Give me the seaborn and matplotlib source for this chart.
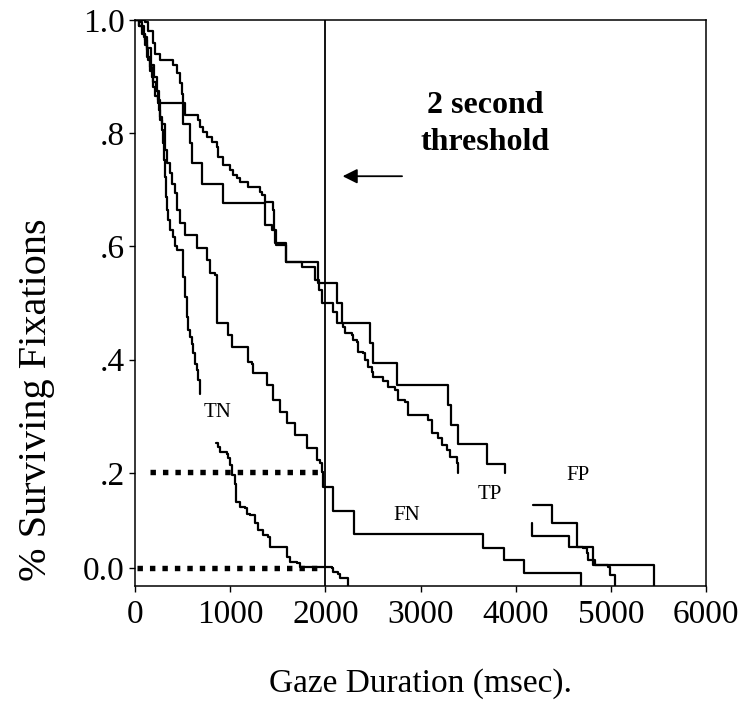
import seaborn as sns
import matplotlib.pyplot as plt

# survival curves: time of each drop (msec) and survival after it
# curves have gaps where the labels sit, so some come in two pieces
tn_t1 = [0, 52, 70, 87, 105, 122, 140, 157, 175, 192, 210, 245, 255, 262, 280, 297, 304, 315, 325, 333,
         350, 368, 402, 420, 437, 507, 525, 542, 560, 577, 595, 612, 630, 647, 665, 682]
tn_s1 = [1.0, 0.996, 0.988, 0.976, 0.965, 0.947, 0.929, 0.917, 0.9, 0.882, 0.865, 0.853, 0.841, 0.823, 0.806,
         0.782, 0.753, 0.723, 0.688, 0.664, 0.647, 0.629, 0.617, 0.6, 0.593, 0.546, 0.511, 0.476, 0.452, 0.44,
         0.428, 0.411, 0.393, 0.382, 0.364, 0.34]
tn_t2 = [851, 875, 892, 962, 980, 997, 1015, 1050, 1060, 1102, 1155, 1172, 1207, 1260, 1295, 1347, 1400, 1417,
         1592, 1627, 1697, 1732, 2065, 2082, 2135, 2152, 2240]
tn_s2 = [0.252, 0.246, 0.237, 0.234, 0.226, 0.214, 0.196, 0.181, 0.149, 0.14, 0.137, 0.128, 0.125, 0.111, 0.099,
         0.09, 0.087, 0.069, 0.052, 0.043, 0.04, 0.034, 0.031, 0.025, 0.022, 0.014, 0.0]

fn_t = [0, 40, 70, 100, 130, 160, 190, 220, 245, 262, 280, 315, 333, 367, 385, 420, 437, 472, 525, 648, 752,
        787, 840, 857, 980, 1015, 1190, 1225, 1242, 1382, 1452, 1522, 1592, 1680, 1802, 1907, 1942, 1960, 1977,
        2079, 2299, 3651, 3875, 4085, 4688]
fn_s = [1.0, 0.99, 0.975, 0.955, 0.935, 0.91, 0.89, 0.875, 0.859, 0.829, 0.817, 0.77, 0.747, 0.729, 0.711,
        0.694, 0.664, 0.641, 0.62, 0.597, 0.576, 0.553, 0.549, 0.465, 0.443, 0.422, 0.396, 0.392, 0.376, 0.355,
        0.329, 0.307, 0.288, 0.267, 0.244, 0.223, 0.217, 0.201, 0.175, 0.133, 0.092, 0.068, 0.046, 0.023, 0.0]

tp_t1 = [0, 105, 140, 192, 210, 262, 402, 437, 472, 490, 507, 525, 665, 683, 717, 752, 805, 857, 875, 927, 997,
         1032, 1067, 1102, 1190, 1312, 1330, 1365, 1452, 1462, 1480, 1590, 1750, 1890, 1930, 1964, 2079, 2121,
         2184, 2205, 2279, 2289, 2331, 2342, 2394, 2415, 2447, 2489, 2499, 2604, 2657, 2730, 2762, 2835, 2867,
         3077, 3119, 3182, 3224, 3276, 3308, 3381, 3392]
tp_s1 = [1.0, 0.996, 0.98, 0.96, 0.94, 0.93, 0.92, 0.906, 0.888, 0.87, 0.853, 0.832, 0.823, 0.811, 0.803, 0.794,
         0.785, 0.776, 0.758, 0.744, 0.735, 0.726, 0.72, 0.714, 0.705, 0.697, 0.691, 0.679, 0.664, 0.629, 0.602,
         0.573, 0.564, 0.541, 0.523, 0.5, 0.484, 0.465, 0.458, 0.447, 0.443, 0.435, 0.431, 0.413, 0.412, 0.399,
         0.387, 0.378, 0.369, 0.362, 0.352, 0.346, 0.329, 0.325, 0.302, 0.293, 0.27, 0.261, 0.249, 0.24, 0.228,
         0.217, 0.2]
tp_t2 = [4169, 4169, 4557, 4704, 4746, 4757, 4830, 4967, 4988, 5045]
tp_s2 = [0.111, 0.088, 0.069, 0.067, 0.058, 0.046, 0.037, 0.033, 0.019, 0.0]

fp_t1 = [0, 40, 90, 130, 170, 200, 230, 255, 507, 577, 595, 700, 927, 1365, 1440, 1470, 1590, 1921, 2121, 2174,
         2467, 2499, 2751, 3287, 3318, 3392, 3696, 3885]
fp_s1 = [1.0, 0.99, 0.97, 0.95, 0.92, 0.9, 0.875, 0.853, 0.817, 0.782, 0.747, 0.711, 0.676, 0.638, 0.629, 0.606,
         0.572, 0.535, 0.5, 0.465, 0.429, 0.394, 0.355, 0.32, 0.284, 0.251, 0.216, 0.2]
fp_t2 = [4179, 4379, 4641, 4809, 5455]
fp_s2 = [0.143, 0.111, 0.069, 0.037, 0.0]

curve_labels = ['TN', 'FN', 'TP', 'FP']
label_t = [872, 2856, 3728, 4652]
label_s = [0.307, 0.125, 0.161, 0.196]

threshold_ms = 2000
at_threshold = [0.201, 0.032]   # FN and TN survival at 2 s
dots_from = [157, 17]

xticks = [0, 1000, 2000, 3000, 4000, 5000, 6000]
yticks = [0.032, 0.2, 0.4, 0.6, 0.8, 1.0]
ytick_labels = ['0.0', '.2', '.4', '.6', '.8', '1.0']

sns.set_style('ticks')
plt.rcParams['font.family'] = ['Liberation Serif', 'DejaVu Serif']
plt.rcParams['text.color'] = 'black'
plt.rcParams['axes.labelcolor'] = 'black'

fig = plt.figure(figsize=(7.44, 7.17), dpi=100)
ax = fig.add_axes([0.1815, 0.1827, 0.7675, 0.7894])

pieces = [(tn_t1, tn_s1), (tn_t2, tn_s2), (fn_t, fn_s), (tp_t1, tp_s1), (tp_t2, tp_s2),
          (fp_t1, fp_s1), (fp_t2, fp_s2)]
for t, s in pieces:
    sns.lineplot(x=t, y=s, ax=ax, color='black', lw=1.6, drawstyle='steps-post',
                 estimator=None, sort=False)

ax.axvline(threshold_ms, color='black', lw=1.3)
for y, x0 in zip(at_threshold, dots_from):
    ax.plot([x0, threshold_ms - 40], [y, y], color='black', lw=3.9,
            ls=(0, (1, 1.3)), dash_capstyle='butt')

for lab, x, y in zip(curve_labels, label_t, label_s):
    ax.text(x, y, lab, fontsize=15, ha='center', va='center')

ax.text(3680, 0.816, '2 second\nthreshold', fontsize=23, fontweight='bold',
        ha='center', va='center', linespacing=1.35)
ax.annotate('', xy=(2152, 0.724), xytext=(2835, 0.724),
            arrowprops=dict(arrowstyle='-|>', color='black', lw=1.3, mutation_scale=22))

ax.set_xlim(0, 6000)
ax.set_ylim(0, 1.0)
ax.set_xticks(xticks)
ax.set_yticks(yticks)
ax.set_yticklabels(ytick_labels)
ax.tick_params(labelsize=24, length=4, width=1, colors='black', direction='out')
ax.tick_params(axis='x', pad=6)
for sp in ax.spines.values():
    sp.set_visible(True)
    sp.set_color('black')
    sp.set_linewidth(1.1)

ax.set_xlabel('Gaze Duration (msec).', fontsize=24)
ax.xaxis.set_label_coords(0.5, -0.145)
ax.set_ylabel('% Surviving Fixations', fontsize=29)
ax.yaxis.set_label_coords(-0.14, 0.33)

fig.savefig('out.png', dpi=100)
